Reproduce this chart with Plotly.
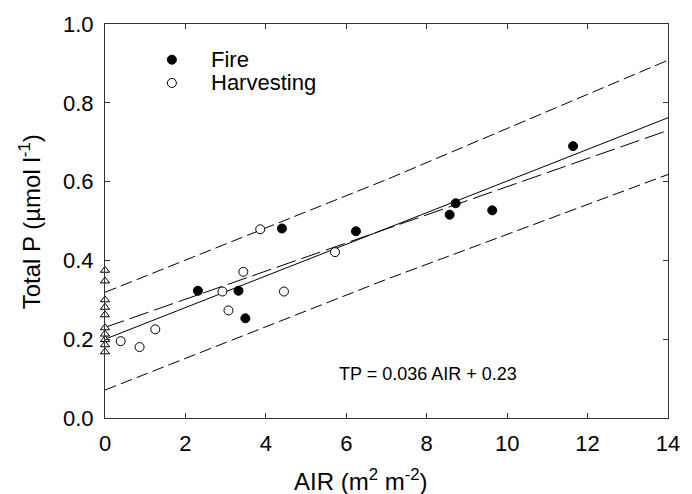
import plotly.graph_objects as go

# ---- data ----
fire_air = [2.31, 3.32, 3.49, 4.40, 6.24, 8.57, 8.72, 9.63, 11.64]
fire_tp = [0.323, 0.323, 0.253, 0.481, 0.474, 0.516, 0.545, 0.527, 0.690]

harv_air = [0.39, 0.86, 1.25, 2.92, 3.07, 3.44, 3.86, 4.45, 5.72]
harv_tp = [0.195, 0.180, 0.225, 0.321, 0.273, 0.371, 0.479, 0.321, 0.421]

ref_air = [0, 0, 0, 0, 0, 0, 0, 0, 0, 0]
ref_tp = [0.375, 0.348, 0.300, 0.281, 0.262, 0.229, 0.213, 0.199, 0.186, 0.168]

fit_air = [0, 14]
fit_tp = [0.200, 0.762]

eq_air = [0, 14]
eq_tp = [0.230, 0.730]

band_air = [0, 7, 14]
band_upper = [0.319, 0.605, 0.908]
band_lower = [0.071, 0.352, 0.618]

x_ticks = [0, 2, 4, 6, 8, 10, 12, 14]
y_ticks = [0.0, 0.2, 0.4, 0.6, 0.8, 1.0]

FONT = "Liberation Sans, Arial, Helvetica, sans-serif"
INK = "#000000"
AXIS = "#333333"

fig = go.Figure()

# prediction bands
for yb in (band_upper, band_lower):
    fig.add_trace(go.Scatter(x=band_air, y=yb, mode="lines", showlegend=False,
                             line=dict(color=INK, width=1, dash="12px,5px"),
                             hoverinfo="skip"))
# equation line (long dash)
fig.add_trace(go.Scatter(x=eq_air, y=eq_tp, mode="lines", showlegend=False,
                         line=dict(color=INK, width=1, dash="20px,6px"),
                         hoverinfo="skip"))
# fitted line (solid)
fig.add_trace(go.Scatter(x=fit_air, y=fit_tp, mode="lines", showlegend=False,
                         line=dict(color=INK, width=1), hoverinfo="skip"))

# reference (AIR = 0) triangles
fig.add_trace(go.Scatter(x=ref_air, y=ref_tp, mode="markers", showlegend=False,
                         cliponaxis=False,
                         marker=dict(symbol="triangle-up", size=8, color="white",
                                     line=dict(color=INK, width=1))))
# harvesting
fig.add_trace(go.Scatter(x=harv_air, y=harv_tp, mode="markers", name="Harvesting",
                         showlegend=False,
                         marker=dict(symbol="circle", size=9, color="white",
                                     line=dict(color=INK, width=1))))
# fire
fig.add_trace(go.Scatter(x=fire_air, y=fire_tp, mode="markers", name="Fire",
                         showlegend=False,
                         marker=dict(symbol="circle", size=9, color=INK,
                                     line=dict(color=INK, width=1))))

axis_common = dict(
    showgrid=False, zeroline=False, showline=True, linecolor=AXIS, linewidth=1,
    mirror="ticks", ticks="inside", ticklen=5, tickcolor=AXIS, tickwidth=1,
    tickfont=dict(family=FONT, size=22, color=INK),
)

fig.update_xaxes(range=[0, 14], tickvals=x_ticks, ticktext=[str(v) for v in x_ticks],
                 ticklabelstandoff=6, **axis_common)
fig.update_yaxes(range=[0, 1.0], tickvals=y_ticks, ticktext=[f"{v:.1f}" for v in y_ticks],
                 ticklabelstandoff=6, **axis_common)

# manual legend
legend_items = [("Fire", INK, 0.9094), ("Harvesting", "white", 0.8503)]
for label, fill, yp in legend_items:
    fig.add_shape(type="circle", xref="paper", yref="paper",
                  xsizemode="pixel", ysizemode="pixel",
                  xanchor=0.1188, yanchor=yp, x0=-4.5, x1=4.5, y0=-4.5, y1=4.5,
                  fillcolor=fill, line=dict(color=INK, width=1))
    fig.add_annotation(x=0.1842, y=yp, xref="paper", yref="paper", text=label,
                       showarrow=False, xanchor="left", yanchor="middle",
                       font=dict(family=FONT, size=22, color=INK))

# regression equation
fig.add_annotation(x=0.5746, y=0.1127, xref="paper", yref="paper",
                   text="TP = 0.036 AIR + 0.23", showarrow=False,
                   xanchor="center", yanchor="middle",
                   font=dict(family=FONT, size=18, color=INK))

# axis titles
fig.add_annotation(x=(364.5 - 105) / 570, y=-0.158, xref="paper", yref="paper",
                   text="AIR (m<sup>2</sup> m<sup>-2</sup>)", showarrow=False,
                   xanchor="center", yanchor="middle",
                   font=dict(family=FONT, size=24, color=INK))
fig.add_annotation(x=-0.133, y=0.497, xref="paper", yref="paper",
                   text="Total P (µmol l<sup>-1</sup>)", showarrow=False,
                   textangle=-90, xanchor="center", yanchor="middle",
                   font=dict(family=FONT, size=24, color=INK))

fig.update_layout(
    width=692, height=494,
    margin=dict(l=105, r=17, t=20, b=76),
    paper_bgcolor="white", plot_bgcolor="white",
    font=dict(family=FONT, color=INK),
    showlegend=False,
)

fig.write_html("out.html")
